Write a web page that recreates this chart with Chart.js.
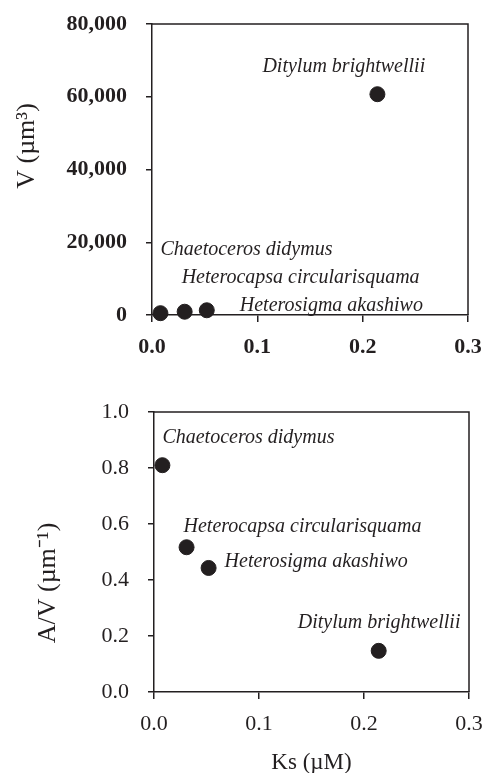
<!DOCTYPE html>
<html>
<head>
<meta charset="utf-8">
<script src="https://cdn.jsdelivr.net/npm/chart.js@4"></script>
<style>
body { margin: 0; background: #fff; }
#wrap { position: relative; width: 483px; height: 773px; }
canvas { position: absolute; left: 0; }
#volChart { top: 0; }
#ratioChart { top: 360px; }
</style>
</head>
<body>
<div id="wrap">
<canvas id="volChart" width="483" height="360"></canvas>
<canvas id="ratioChart" width="483" height="413"></canvas>
</div>
<script>
/* data */
var species = ['Chaetoceros didymus', 'Heterocapsa circularisquama', 'Heterosigma akashiwo', 'Ditylum brightwellii'];
var ks = [0.008, 0.031, 0.052, 0.214];           // Ks (uM)
var volume = [500, 900, 1300, 60700];            // V (um3)
var ratio = [0.81, 0.517, 0.443, 0.147];         // A/V (um-1)

var xTicks = [0, 0.1, 0.2, 0.3];
var volTicks = [0, 20000, 40000, 60000, 80000];
var ratioTicks = [0, 0.2, 0.4, 0.6, 0.8, 1.0];

var ink = '#231f20';
var serif = '"Liberation Serif", "Times New Roman", serif';

function toPoints(ys) {
    var pts = [];
    for (var i = 0; i < ks.length; i++) {
        pts.push({ x: ks[i], y: ys[i] });
    }
    return pts;
}

function fixTicks(list) {
    return function(scale) {
        scale.ticks = list.map(function(v) { return { value: v }; });
    };
}

// top + right side of the frame
var boxPlugin = {
    id: 'box',
    beforeDatasetsDraw: function(chart) {
        var a = chart.chartArea, ctx = chart.ctx;
        ctx.save();
        ctx.strokeStyle = ink;
        ctx.lineWidth = 1.5;
        ctx.beginPath();
        ctx.moveTo(a.left, a.top);
        ctx.lineTo(a.right, a.top);
        ctx.lineTo(a.right, a.bottom);
        ctx.stroke();
        ctx.restore();
    }
};

// species names next to the dots, plus rotated y title
var labelPlugin = {
    id: 'speciesLabels',
    afterDatasetsDraw: function(chart, args, opts) {
        var ctx = chart.ctx;
        var meta = chart.getDatasetMeta(0);
        ctx.save();
        ctx.fillStyle = ink;
        ctx.font = 'italic 20px ' + serif;
        ctx.textAlign = 'left';
        ctx.textBaseline = 'middle';
        meta.data.forEach(function(pt, i) {
            var off = opts.offsets[i];
            ctx.fillText(species[i], pt.x + off[0], pt.y + off[1]);
        });
        ctx.font = '26px ' + serif;
        ctx.textAlign = 'center';
        ctx.translate(opts.titleX, opts.titleY);
        ctx.rotate(-Math.PI / 2);
        ctx.fillText(opts.title, 0, 0);
        ctx.restore();
    }
};

function makeChart(id, ys, opt) {
    var ctx = document.getElementById(id).getContext('2d');
    return new Chart(ctx, {
        type: 'scatter',
        data: {
            datasets: [{
                data: toPoints(ys),
                backgroundColor: ink,
                borderColor: ink,
                pointRadius: 7.5,
                pointHoverRadius: 7.5,
                clip: false
            }]
        },
        options: {
            responsive: false,
            animation: false,
            layout: { padding: { top: opt.top, right: opt.right, left: 0, bottom: 0 } },
            plugins: {
                legend: { display: false },
                tooltip: { enabled: false },
                speciesLabels: { offsets: opt.offsets, title: opt.yTitle, titleX: opt.titleX, titleY: opt.titleY }
            },
            scales: {
                x: {
                    type: 'linear',
                    min: 0, max: 0.3,
                    afterBuildTicks: fixTicks(xTicks),
                    afterFit: function(s) {
                        s.height = opt.xHeight;
                        // let the last label run off the edge like the original
                        s.paddingLeft = 0;
                        s.paddingRight = 0;
                    },
                    border: { display: true, color: ink, width: 1.5 },
                    grid: { display: true, drawOnChartArea: false, drawTicks: true, tickLength: 7, color: ink, lineWidth: 1.5 },
                    ticks: {
                        color: ink,
                        padding: 12,
                        maxRotation: 0,
                        font: { family: serif, size: 22, weight: opt.tickWeight },
                        callback: function(v) { return v.toFixed(1); }
                    },
                    title: opt.xTitle ? {
                        display: true, text: opt.xTitle, color: ink,
                        font: { family: serif, size: 23 }, padding: { top: 12, bottom: -4 }
                    } : { display: false }
                },
                y: {
                    type: 'linear',
                    min: opt.yMin, max: opt.yMax,
                    afterBuildTicks: fixTicks(opt.yTicks),
                    afterFit: function(s) {
                        s.width = opt.yWidth;
                        s.paddingTop = 0;
                        s.paddingBottom = 0;
                    },
                    border: { display: true, color: ink, width: 1.5 },
                    grid: { display: true, drawOnChartArea: false, drawTicks: true, tickLength: 6, color: ink, lineWidth: 1.5 },
                    ticks: {
                        color: ink,
                        padding: 19,
                        font: { family: serif, size: 22, weight: opt.tickWeight },
                        callback: opt.yFormat
                    }
                }
            }
        },
        plugins: [boxPlugin, labelPlugin]
    });
}

var volChart = makeChart('volChart', volume, {
    top: 24, right: 15, xHeight: 45, yWidth: 152,
    yMin: 0, yMax: 80000, yTicks: volTicks, tickWeight: 'bold',
    yFormat: function(v) { return v.toLocaleString('en-US'); },
    yTitle: 'V (\u00b5m\u00b3)', titleX: 27, titleY: 146,
    offsets: [[0, -63], [-3, -34], [33, -5], [-115, -27]]
});

var ratioChart = makeChart('ratioChart', ratio, {
    top: 52, right: 14, xHeight: 81, yWidth: 154,
    yMin: 0, yMax: 1, yTicks: ratioTicks, tickWeight: 'normal',
    yFormat: function(v) { return v.toFixed(1); },
    xTitle: 'Ks (\u00b5M)',
    yTitle: 'A/V (\u00b5m\u207b\u00b9)', titleX: 48, titleY: 223,
    offsets: [[0, -27], [-3, -20], [16, -6], [-81, -28]]
});
</script>
</body>
</html>
